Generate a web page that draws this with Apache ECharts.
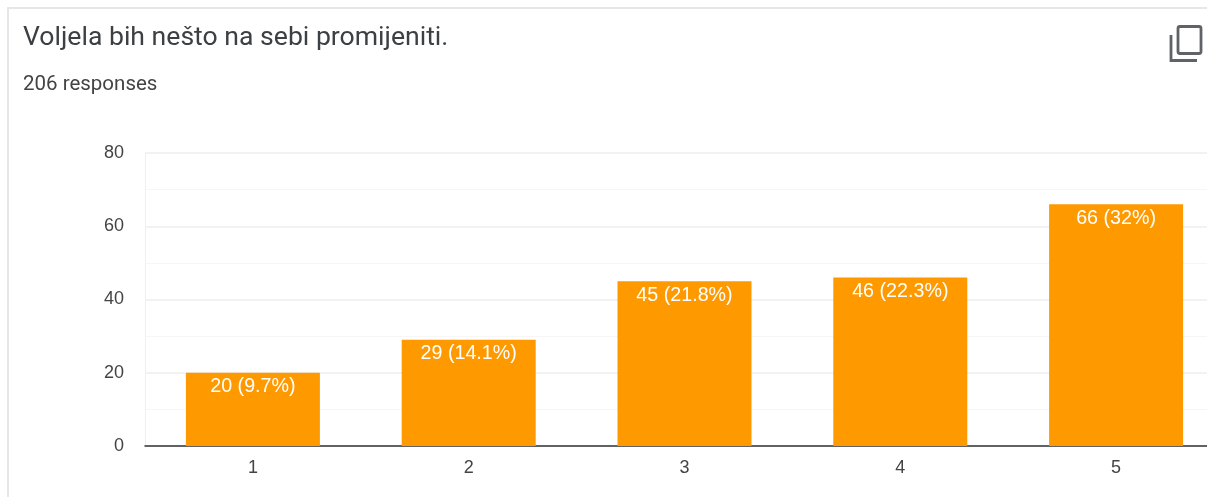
<!DOCTYPE html>
<html>
<head>
<meta charset="utf-8">
<style>html,body{margin:0;padding:0;background:#fff}#c{width:1207px;height:497px}</style>
<script src="https://cdn.jsdelivr.net/npm/echarts@6/dist/echarts.min.js"></script>
</head>
<body>
<div id="c"></div>
<script>
const categories = ['1','2','3','4','5'];
const values = [20,29,45,46,66];
const percents = ['9.7%','14.1%','21.8%','22.3%','32%'];
const chartTitle = 'Voljela bih nešto na sebi promijeniti.';
const subTitle = '206 responses';

const chart = echarts.init(document.getElementById('c'), null, {renderer:'canvas'});
chart.setOption({
  animation:false,
  backgroundColor:'#fff',
  title:[
    {text:chartTitle,left:18,top:20,textStyle:{fontFamily:'Roboto',fontWeight:400,fontSize:26.6,color:'#3c4043'}},
    {text:subTitle,left:18,top:69,textStyle:{fontFamily:'Roboto',fontWeight:400,fontSize:20.5,color:'#444'}}
  ],
  grid:{left:145,top:153,width:1079,height:293,containLabel:false,outerBoundsMode:'none'},
  xAxis:{
    type:'category',data:categories,
    axisLine:{show:true,lineStyle:{color:'#333',width:1.5}},
    axisTick:{show:false},
    axisLabel:{color:'#444',fontFamily:'Liberation Sans',fontSize:18,margin:13},
    splitLine:{show:false}
  },
  yAxis:{
    type:'value',min:0,max:80,interval:20,
    axisLine:{show:true,lineStyle:{color:'#f0f0f0',width:1}},
    axisTick:{show:false},
    axisLabel:{color:'#444',fontFamily:'Liberation Sans',fontSize:18,margin:21},
    splitLine:{show:true,lineStyle:{color:'#eeeeee',width:1.5}},
    minorTick:{show:false,splitNumber:2},
    minorSplitLine:{show:true,lineStyle:{color:'#f6f6f6',width:1}}
  },
  series:[{
    type:'bar',
    data:values,
    barWidth:134,
    itemStyle:{color:'#ff9900'},
    label:{
      show:true,position:'insideTop',distance:4,color:'#fff',
      fontFamily:'Liberation Sans',fontSize:19.7,
      formatter:p=>values[p.dataIndex]+' ('+percents[p.dataIndex]+')'
    }
  }],
  graphic:[
    {type:'rect',shape:{x:8,y:8,width:1300,height:600},style:{fill:'none',stroke:'#e6e6e6',lineWidth:2},z:0,silent:true},
    {type:'rect',shape:{x:1178,y:26.5,width:23,height:27,r:2},style:{fill:'#fff',stroke:'#5f6368',lineWidth:2.8},z:10,silent:true},
    {type:'polyline',shape:{points:[[1171,35],[1171,60.5],[1197,60.5]]},style:{fill:'none',stroke:'#5f6368',lineWidth:2.8},z:10,silent:true}
  ]
});
</script>
</body>
</html>
